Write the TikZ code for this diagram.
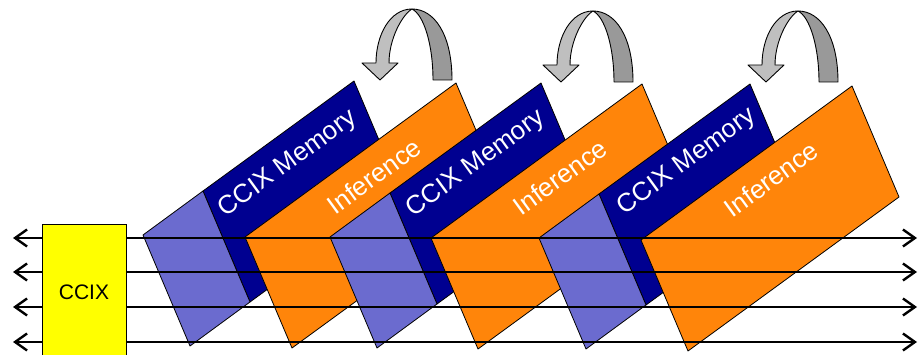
\documentclass[tikz,border=0pt]{standalone}
\usepackage{fontspec}
\setmainfont{Liberation Sans}
\usepackage{xcolor}
\usepackage{tikz}
\usetikzlibrary{arrows.meta}

\definecolor{ccixyellow}{RGB}{255,255,0}
\definecolor{memnavy}{RGB}{0,0,144}
\definecolor{memlilac}{RGB}{107,107,207}
\definecolor{inforange}{RGB}{255,133,10}
\definecolor{looplight}{RGB}{191,191,191}
\definecolor{loopdark}{RGB}{153,153,153}

\begin{document}
\begin{tikzpicture}[x=1pt,y=-1pt,>={Straight Barb[length=12pt,width=17pt,line width=2.4pt]}]
	\useasboundingbox (0,0) rectangle (922,355);
	\tikzstyle{face}=[draw=black,line width=0.8pt,line join=round]
	\tikzstyle{slanttext}=[text=white,rotate=36,inner sep=0pt,font=\fontsize{26}{30}\selectfont]
	\tikzstyle{ccixbox}=[draw=black,line width=0.8pt,fill=ccixyellow,minimum width=84pt,minimum height=136pt,inner sep=0pt,font=\fontsize{21}{25}\selectfont]
	\tikzstyle{bus}=[line width=1.3pt]
	\tikzstyle{turn}=[draw=black,line width=0.9pt,line join=round]
	% first memory / inference pair
	\filldraw[face,fill=memnavy] (203,191) -- (354,81) -- (401,192) -- (250,302) -- cycle;
	\filldraw[face,fill=memlilac] (143,235) -- (203,191) -- (250,302) -- (190,346) -- cycle;
	\filldraw[face,fill=inforange] (245,237) -- (456,83) -- (503,194) -- (292,348) -- cycle;
	\node[slanttext] (mem1) at (288,164) {CCIX Memory};
	\node[slanttext] (inf1) at (374,176) {Inference};
	% second pair
	\filldraw[face,fill=memnavy] (390,193) -- (541,83) -- (588,194) -- (437,304) -- cycle;
	\filldraw[face,fill=memlilac] (330,237) -- (390,193) -- (437,304) -- (377,348) -- cycle;
	\filldraw[face,fill=inforange] (431,238) -- (642,84) -- (689,195) -- (478,349) -- cycle;
	\node[slanttext] (mem2) at (476,164) {CCIX Memory};
	\node[slanttext] (inf2) at (560,177) {Inference};
	% third pair
	\filldraw[face,fill=memnavy] (599,194) -- (750,84) -- (797,195) -- (646,305) -- cycle;
	\filldraw[face,fill=memlilac] (539,238) -- (599,194) -- (646,305) -- (586,349) -- cycle;
	\filldraw[face,fill=inforange] (641,240) -- (852,86) -- (899,197) -- (688,351) -- cycle;
	\node[slanttext] (mem3) at (687,162) {CCIX Memory};
	\node[slanttext] (inf3) at (771,179) {Inference};
	% CCIX port and links
	\node[ccixbox] (ccix) at (84,292) {CCIX};
	\coordinate (w1) at (13,238); \coordinate (e1) at (917,238);
	\coordinate (w2) at (13,272); \coordinate (e2) at (917,272);
	\coordinate (w3) at (13,307); \coordinate (e3) at (917,307);
	\coordinate (w4) at (13,342); \coordinate (e4) at (917,342);
	\draw[bus,<-] (w1) -- (w1 -| ccix.west);
	\draw[bus,<-] (w2) -- (w2 -| ccix.west);
	\draw[bus,<-] (w3) -- (w3 -| ccix.west);
	\draw[bus,<-] (w4) -- (w4 -| ccix.west);
	\draw[bus,->] (e1 -| ccix.east) -- (e1);
	\draw[bus,->] (e2 -| ccix.east) -- (e2);
	\draw[bus,->] (e3 -| ccix.east) -- (e3);
	\draw[bus,->] (e4 -| ccix.east) -- (e4);
	% loop-back arrows
	\begin{scope}[shift={(412,9)}]
		\filldraw[turn,fill=looplight] (0,0) .. controls (-22,0) and (-36,26) .. (-36,54) -- (-50,54) -- (-32,71) -- (-14,54) -- (-23,54) .. controls (-23,30) and (-10,6) .. (0,0) -- cycle;
		\filldraw[turn,fill=loopdark] (0,0) .. controls (22,0) and (40,25) .. (40,71) -- (21,71) .. controls (21,36) and (12,6) .. (0,0) -- cycle;
	\end{scope}
	\begin{scope}[shift={(593,11)}]
		\filldraw[turn,fill=looplight] (0,0) .. controls (-22,0) and (-36,26) .. (-36,54) -- (-50,54) -- (-32,71) -- (-14,54) -- (-23,54) .. controls (-23,30) and (-10,6) .. (0,0) -- cycle;
		\filldraw[turn,fill=loopdark] (0,0) .. controls (22,0) and (40,25) .. (40,71) -- (21,71) .. controls (21,36) and (12,6) .. (0,0) -- cycle;
	\end{scope}
	\begin{scope}[shift={(798,11)}]
		\filldraw[turn,fill=looplight] (0,0) .. controls (-22,0) and (-36,26) .. (-36,54) -- (-50,54) -- (-32,71) -- (-14,54) -- (-23,54) .. controls (-23,30) and (-10,6) .. (0,0) -- cycle;
		\filldraw[turn,fill=loopdark] (0,0) .. controls (22,0) and (40,25) .. (40,71) -- (21,71) .. controls (21,36) and (12,6) .. (0,0) -- cycle;
	\end{scope}
\end{tikzpicture}
\end{document}
